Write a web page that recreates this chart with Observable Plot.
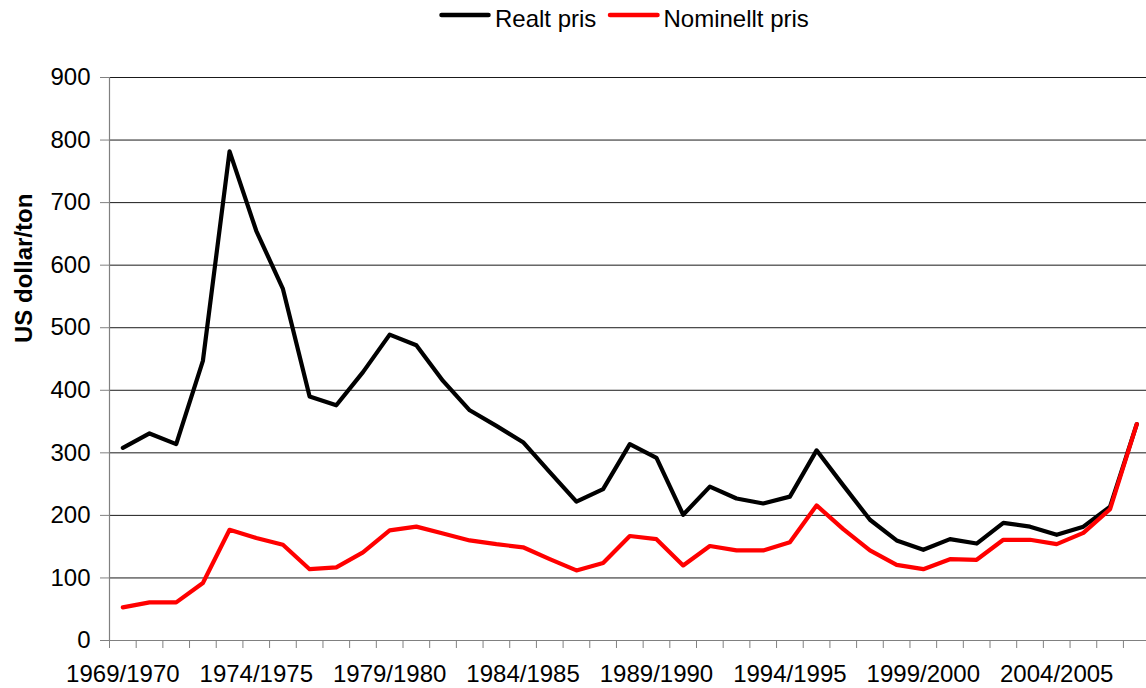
<!DOCTYPE html>
<html>
<head>
<meta charset="utf-8">
<script src="https://cdn.jsdelivr.net/npm/d3@7"></script>
<script src="https://cdn.jsdelivr.net/npm/@observablehq/plot@0.6"></script>
<style>
html, body { margin: 0; padding: 0; background: #fff; overflow: hidden; }
body { width: 1146px; height: 688px; font-family: "Liberation Sans", Arial, sans-serif; }
#legend { display: block; }
</style>
</head>
<body>
<svg id="legend" width="1146" height="36"></svg>
<div id="chart"></div>
<script>
const categories = [
  "1969/1970","1970/1971","1971/1972","1972/1973","1973/1974","1974/1975","1975/1976","1976/1977",
  "1977/1978","1978/1979","1979/1980","1980/1981","1981/1982","1982/1983","1983/1984","1984/1985",
  "1985/1986","1986/1987","1987/1988","1988/1989","1989/1990","1990/1991","1991/1992","1992/1993",
  "1993/1994","1994/1995","1995/1996","1996/1997","1997/1998","1998/1999","1999/2000","2000/2001",
  "2001/2002","2002/2003","2003/2004","2004/2005","2005/2006","2006/2007","2007/2008"
];
const realtPris = [
  308, 331, 314, 447, 782, 655, 562, 390, 376, 429, 489, 472, 415, 368, 343, 317,
  269, 222, 242, 314, 292, 201, 246, 227, 219, 230, 304, 248, 193, 160, 145, 162,
  155, 188, 182, 169, 182, 214, 346
];
const nominelltPris = [
  53, 61, 61, 92, 177, 164, 153, 114, 117, 141, 176, 182, 171, 160, 154, 149,
  130, 112, 124, 167, 162, 120, 151, 144, 144, 157, 216, 178, 144, 121, 114, 130,
  129, 161, 161, 154, 172, 210, 346
];
const xTickLabels = ["1969/1970","1974/1975","1979/1980","1984/1985","1989/1990","1994/1995","1999/2000","2004/2005"];
const yTicks = [0, 100, 200, 300, 400, 500, 600, 700, 800, 900];
const seriesNames = ["Realt pris", "Nominellt pris"];
const seriesColors = ["#000000", "#ff0000"];

const rows = categories.map((c, i) => ({i, c, realt: realtPris[i], nom: nominelltPris[i]}));
const labelIdx = xTickLabels.map(l => categories.indexOf(l));
const n = categories.length;
const boundaries = d3.range(n + 1).map(k => k - 0.5);

// Legend
const lg = d3.select("#legend");
const lgItems = [{x0: 441.5, x1: 488.5, tx: 495}, {x0: 610, x1: 657.5, tx: 663.5}];
seriesNames.forEach((name, k) => {
  const it = lgItems[k];
  lg.append("line").attr("x1", it.x0).attr("x2", it.x1).attr("y1", 15).attr("y2", 15)
    .attr("stroke", seriesColors[k]).attr("stroke-width", 4.5).attr("stroke-linecap", "round");
  lg.append("text").attr("x", it.tx).attr("y", 26.5).attr("font-size", 24)
    .attr("font-family", '"Liberation Sans", Arial, sans-serif').attr("fill", "#000").text(name);
});

const chart = Plot.plot({
  width: 1146,
  height: 652,
  marginTop: 41,
  marginBottom: 48,
  marginLeft: 109,
  marginRight: 0,
  style: {fontFamily: '"Liberation Sans", Arial, sans-serif', fontSize: "24px", color: "#000", background: "#fff"},
  x: {type: "linear", domain: [-0.5, n - 0.5], range: [109, 1149.6]},
  y: {domain: [0, 900], range: [604, 41]},
  marks: [
    Plot.ruleY(yTicks.filter(d => d > 0), {x1: -0.5, x2: n - 0.5, stroke: "#1a1a1a", strokeWidth: 1}),
    Plot.ruleX([-0.5], {y1: 0, y2: 900, stroke: "#808080", strokeWidth: 1.2}),
    Plot.ruleY([0], {x1: -0.5, x2: n - 0.5, stroke: "#808080", strokeWidth: 1.2}),
    Plot.axisY({ticks: yTicks, tickSize: 9, tickPadding: 10, stroke: "#808080", fill: "#000", fontSize: 24, label: null, tickFormat: d => String(d)}),
    Plot.axisX({ticks: boundaries, tickSize: 8, tickFormat: () => "", stroke: "#808080", label: null}),
    Plot.axisX({ticks: labelIdx, tickSize: 0, tickPadding: 24, tickFormat: i => categories[i], fill: "#000", fontSize: 24, label: null}),
    Plot.line(rows, {x: "i", y: "realt", stroke: seriesColors[0], strokeWidth: 4.2}),
    Plot.line(rows, {x: "i", y: "nom", stroke: seriesColors[1], strokeWidth: 4.2}),
    Plot.text(["US dollar/ton"], {text: d => d, frameAnchor: "left", rotate: -90, dx: -78, dy: -16, lineAnchor: "bottom", fontWeight: "bold", fontSize: 24, fill: "#000"})
  ]
});
document.getElementById("chart").appendChild(chart);
</script>
</body>
</html>
